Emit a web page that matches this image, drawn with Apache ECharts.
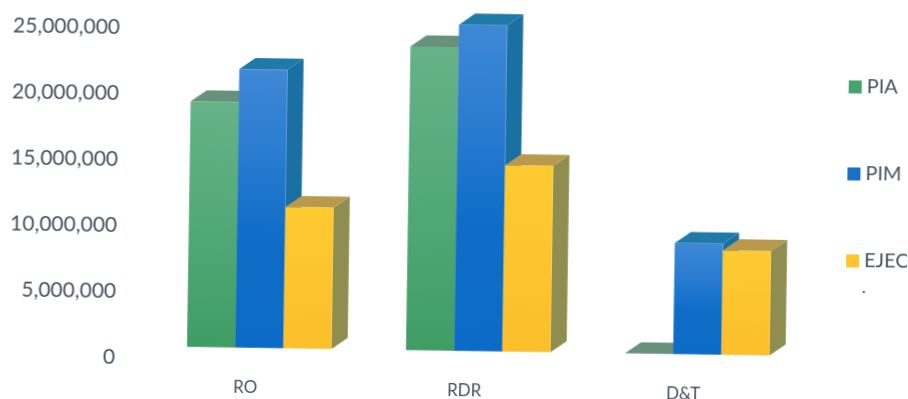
<!DOCTYPE html>
<html>
<head>
<meta charset="utf-8">
<style>
  html, body { margin: 0; padding: 0; background: #fff; overflow: hidden; }
  /* the printed sheet sits slightly askew */
  #chart { width: 908px; height: 399px; transform: rotate(0.85deg); transform-origin: 50% 50%; }
</style>
<script src="https://cdn.jsdelivr.net/npm/echarts@6/dist/echarts.min.js"></script>
</head>
<body>
<div id="chart"></div>
<script>
const categories = ['RO', 'RDR', 'D&T'];
const pia = [18600000, 23000000, 0];
const pim = [21100000, 24700000, 8400000];
const ejec = [10700000, 14100000, 7900000];
const yTicks = { min: 0, max: 25000000, interval: 5000000 };

// oblique projection of the 3D boxes, in pixels
const FLOOR_DX = 13.5, FLOOR_DY = -11.3;
const DEPTH_DX = 16, DEPTH_DY = -11.3;
const GROUP_SHARE = 0.66;

const palettes = {
  PIA:  { front: [[0, '#66b288'], [0.5, '#52a978'], [1, '#3f9d64']], side: '#5f8f76', top: '#67917b', key: '#46a36c' },
  PIM:  { front: [[0, '#3f88d6'], [0.3, '#2a7cd0'], [0.6, '#0f6dc8'], [1, '#0c6bc6']], side: '#1a6fa3', top: '#1f7aa8', key: '#1a6fc9' },
  EJEC: { front: [[0, '#fdca30'], [1, '#fbbf2c']], side: '#8f8d4f', top: '#b99a4c', key: '#fcc531' }
};

function vGrad(stops) {
  return new echarts.graphic.LinearGradient(0, 0, 0, 1,
    stops.map(s => ({ offset: s[0], color: s[1] })));
}

function boxRenderer(slot, pal) {
  return function (params, api) {
    const base = api.coord([api.value(0), 0]);
    const head = api.coord([api.value(0), api.value(1)]);
    const w = api.size([1, 0])[0] * GROUP_SHARE / 3;
    const x0 = base[0] + FLOOR_DX + (slot - 1.5) * w;
    const x1 = x0 + w;
    const yb = base[1] + FLOOR_DY;
    const yt = head[1] + FLOOR_DY;
    const poly = (points, fill) => ({ type: 'polygon', shape: { points }, style: { fill } });
    return {
      type: 'group',
      children: [
        poly([[x1, yb], [x1 + DEPTH_DX, yb + DEPTH_DY], [x1 + DEPTH_DX, yt + DEPTH_DY], [x1, yt]], pal.side),
        poly([[x0, yt], [x0 + DEPTH_DX, yt + DEPTH_DY], [x1 + DEPTH_DX, yt + DEPTH_DY], [x1, yt]], pal.top),
        { type: 'rect', shape: { x: x0, y: yt, width: w, height: yb - yt }, style: { fill: vGrad(pal.front) } }
      ]
    };
  };
}

function boxSeries(name, values, slot) {
  const pal = palettes[name];
  return {
    name,
    type: 'custom',
    clip: false,
    itemStyle: { color: pal.key },
    renderItem: boxRenderer(slot, pal),
    encode: { x: 0, y: 1 },
    data: values.map((v, i) => [i, v])
  };
}

const TEXT = '#465260';
const chart = echarts.init(document.getElementById('chart'), null, { renderer: 'canvas' });
chart.setOption({
  animation: false,
  backgroundColor: 'transparent',
  grid: { left: 138.5, right: 112.5, top: 32, bottom: 37, containLabel: false },
  xAxis: {
    type: 'category',
    data: categories,
    axisLine: { show: false },
    axisTick: { show: false },
    axisLabel: { color: TEXT, fontFamily: 'Lato', fontSize: 17, margin: 20 }
  },
  yAxis: {
    type: 'value',
    min: yTicks.min,
    max: yTicks.max,
    interval: yTicks.interval,
    axisLine: { show: false },
    axisTick: { show: false },
    splitLine: { show: false },
    axisLabel: {
      color: TEXT, fontFamily: 'Lato', fontSize: 21, margin: 21,
      formatter: v => v.toLocaleString('en-US')
    }
  },
  legend: {
    orient: 'vertical',
    left: 842,
    top: 66,
    itemWidth: 13,
    itemHeight: 13,
    itemGap: 67,
    icon: 'rect',
    textStyle: { color: TEXT, fontFamily: 'Lato', fontSize: 20 },
    data: ['PIA', 'PIM', 'EJEC']
  },
  graphic: [{
    type: 'text',
    left: 863,
    top: 272,
    style: { text: '.', fill: TEXT, font: '18px Lato' }
  }],
  series: [
    boxSeries('PIA', pia, 0),
    boxSeries('PIM', pim, 1),
    boxSeries('EJEC', ejec, 2)
  ]
});
</script>
</body>
</html>
